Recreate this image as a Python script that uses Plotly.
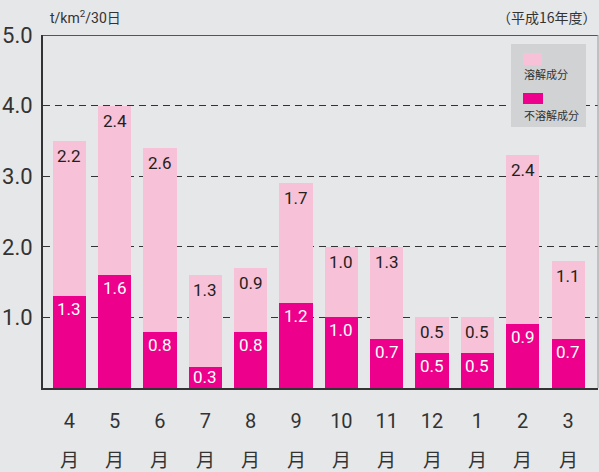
import plotly.graph_objects as go

months = ["4", "5", "6", "7", "8", "9", "10", "11", "12", "1", "2", "3"]
insoluble = [1.3, 1.6, 0.8, 0.3, 0.8, 1.2, 1.0, 0.7, 0.5, 0.5, 0.9, 0.7]
soluble = [2.2, 2.4, 2.6, 1.3, 0.9, 1.7, 1.0, 1.3, 0.5, 0.5, 2.4, 1.1]
y_ticks = [1.0, 2.0, 3.0, 4.0, 5.0]
y_tick_labels = ["1.0", "2.0", "3.0", "4.0", "5.0"]
unit_label = "t/km<sup>2</sup>/30日"
period_label = "（平成16年度）"
legend_names = ["溶解成分", "不溶解成分"]

BG = "#e6e7e9"
LIGHT = "#f7c1d8"
DARK = "#ec008c"
FONT = "Roboto, 'Noto Sans CJK JP', sans-serif"
CJK = "'Noto Sans CJK JP', sans-serif"

W, H = 599, 472
L, R, T, B = 43, 1, 35, 84
PW, PH = W - L - R, H - T - B
YMAX = 5.0
px_per_unit = PH / YMAX

def px(xp):
    return (xp - L) / PW

def py(yp):
    return (H - B - yp) / PH

x = list(range(len(months)))

fig = go.Figure()
fig.add_trace(go.Bar(x=x, y=insoluble, marker=dict(color=DARK, line=dict(width=0)),
                     name=legend_names[1], hoverinfo="skip"))
fig.add_trace(go.Bar(x=x, y=soluble, marker=dict(color=LIGHT, line=dict(width=0)),
                     name=legend_names[0], hoverinfo="skip"))

annotations = []
for i in range(len(months)):
    h = insoluble[i] * px_per_unit
    off = min(13, h / 2)
    annotations.append(dict(x=i, y=insoluble[i], xref="x", yref="y", text=f"{insoluble[i]:.1f}",
                            showarrow=False, yanchor="middle", yshift=-off,
                            font=dict(family=FONT, size=17, color="white")))
    top = insoluble[i] + soluble[i]
    h2 = soluble[i] * px_per_unit
    off2 = min(15, h2 / 2)
    annotations.append(dict(x=i, y=top, xref="x", yref="y", text=f"{soluble[i]:.1f}",
                            showarrow=False, yanchor="middle", yshift=-off2,
                            font=dict(family=FONT, size=17, color="#231f20")))
    annotations.append(dict(x=i, y=py(458), xref="x", yref="paper", text="月",
                            showarrow=False, yanchor="middle",
                            font=dict(family=CJK, size=19, color="#333")))

annotations.append(dict(x=px(48), y=py(17), xref="paper", yref="paper", text=unit_label,
                        showarrow=False, xanchor="left", yanchor="middle",
                        font=dict(family=FONT, size=14, color="#333")))
annotations.append(dict(x=px(599), y=py(17), xref="paper", yref="paper", text=period_label,
                        showarrow=False, xanchor="right", yanchor="middle",
                        font=dict(family=CJK, size=14, color="#333")))
annotations.append(dict(x=px(522), y=py(74), xref="paper", yref="paper", text=legend_names[0],
                        showarrow=False, xanchor="left", yanchor="middle",
                        font=dict(family=CJK, size=11, color="#333")))
annotations.append(dict(x=px(522), y=py(115), xref="paper", yref="paper", text=legend_names[1],
                        showarrow=False, xanchor="left", yanchor="middle",
                        font=dict(family=CJK, size=11, color="#333")))

shapes = [
    dict(type="rect", xref="paper", yref="paper", x0=px(511), x1=px(586), y0=py(127), y1=py(44),
         fillcolor="#d1d2d4", line=dict(width=0), layer="above"),
    dict(type="rect", xref="paper", yref="paper", x0=px(523), x1=px(542), y0=py(65), y1=py(53),
         fillcolor=LIGHT, line=dict(width=0), layer="above"),
    dict(type="rect", xref="paper", yref="paper", x0=px(523), x1=px(543), y0=py(104), y1=py(93),
         fillcolor=DARK, line=dict(width=0), layer="above"),
    dict(type="line", xref="paper", yref="y", x0=0, x1=1, y0=YMAX, y1=YMAX,
         line=dict(color="#555", width=2), layer="above"),
    dict(type="line", xref="paper", yref="paper", x0=1, x1=1, y0=0, y1=1,
         line=dict(color="#9a9a9a", width=1), layer="above"),
]

fig.update_layout(
    width=W, height=H,
    margin=dict(l=L, r=R, t=T, b=B, pad=0),
    paper_bgcolor=BG, plot_bgcolor=BG,
    barmode="stack", bargap=0.27,
    showlegend=False,
    annotations=annotations, shapes=shapes,
    xaxis=dict(range=[-0.58, 11.66], tickmode="array", tickvals=x, ticktext=months,
               showgrid=False, zeroline=False, showline=True, linecolor="#333", linewidth=2,
               ticks="", ticklabelstandoff=14,
               tickfont=dict(family=FONT, size=20, color="#333"), fixedrange=True),
    yaxis=dict(range=[0, YMAX], tickmode="array", tickvals=y_ticks, ticktext=y_tick_labels,
               showgrid=True, gridcolor="#333", gridwidth=1.3, griddash="7px,5px",
               zeroline=False, showline=True, linecolor="#333", linewidth=2,
               ticks="", ticklabelstandoff=4,
               tickfont=dict(family=FONT, size=22, color="#333"), fixedrange=True),
)

fig.write_html(
    "out.html",
    config={"displayModeBar": False, "staticPlot": True},
    post_script="document.body.style.margin='0';document.body.style.overflow='hidden';",
)
